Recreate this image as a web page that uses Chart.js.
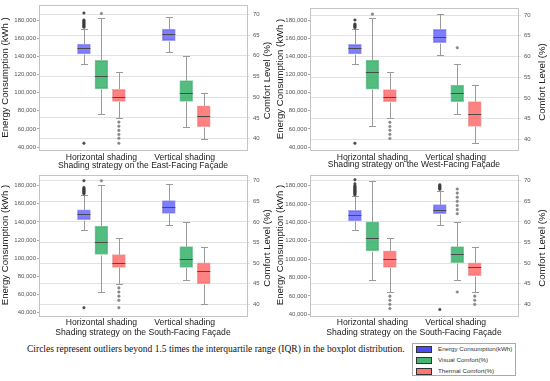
<!DOCTYPE html>
<html>
<head>
<meta charset="utf-8">
<script src="https://cdn.jsdelivr.net/npm/chart.js@4.4.1/dist/chart.umd.min.js"></script>
<style>
  body { margin: 0; width: 550px; height: 381px; background: #fff; position: relative; overflow: hidden;
         font-family: "Liberation Sans", Arial, sans-serif; }
  .panel { position: absolute; width: 275px; height: 170px; }
  #p1 { left: 0; top: 0; }
  #p2 { left: 275px; top: 0; }
  #p3 { left: 0; top: 170px; }
  #p4 { left: 275px; top: 170px; }
  #caption { position: absolute; left: 27px; top: 344px; white-space: nowrap;
             font-family: "Liberation Serif", "Times New Roman", serif; font-size: 9.5px; color: #111; }
  #legend { position: absolute; left: 412px; top: 343px; width: 104px; height: 33px;
            border: 1px solid #aaa; box-sizing: border-box; }
  .row { position: absolute; left: 3px; height: 8px; font-size: 6.2px; color: #333; line-height: 8px; }
  .sw { display: inline-block; width: 16px; height: 7px; border: 1px solid #333; box-sizing: border-box;
        vertical-align: middle; margin-right: 6px; }
</style>
</head>
<body>
<div class="panel" id="p1"><canvas id="c1" width="275" height="170"></canvas></div>
<div class="panel" id="p2"><canvas id="c2" width="275" height="170"></canvas></div>
<div class="panel" id="p3"><canvas id="c3" width="275" height="170"></canvas></div>
<div class="panel" id="p4"><canvas id="c4" width="275" height="170"></canvas></div>
<div id="caption">Circles represent outliers beyond 1.5 times the interquartile range (IQR) in the boxplot distribution.</div>
<div id="legend">
  <div class="row" style="top:1px"><span class="sw" style="background:#4b4bf7"></span>Energy Consumption(kWh)</div>
  <div class="row" style="top:12px"><span class="sw" style="background:#45b572"></span>Visual Comfort(%)</div>
  <div class="row" style="top:23px"><span class="sw" style="background:#fb7878"></span>Thermal Comfort(%)</div>
</div>
<script>
const categories = ['Horizontal shading', 'Vertical shading'];
const energyTicks = [40000, 60000, 80000, 100000, 120000, 140000, 160000, 180000];
const comfortTicks = [40, 45, 50, 55, 60, 65, 70];

// box stats per category: [lower whisker, q1, median, q3, upper whisker]
const eastEnergy = [[131500, 142500, 149000, 153500, 170000], [145000, 157200, 164200, 170000, 182900]];
const eastVisual = [[46, 52, 55, 58.9, 69.1], [42.9, 49, 51, 54, 59.9]];
const eastThermal = [[45, 49, 50, 51.9, 56], [40, 42.9, 45.5, 47.9, 51]];
const eastEnergyOut = [[187700, 180000, 179000, 178000, 177000, 176000, 175000, 174000, 173000, 172000, 44100], []];
const eastVisualOut = [[70.2], []];
const eastThermalOut = [[44, 43, 42, 41, 40.1, 38.9], []];

const westEnergy = [[131500, 142500, 148800, 153200, 169700], [141400, 155000, 160900, 169700, 186300]];
const westVisual = [[43.1, 52.1, 56.3, 59.1, 69.2], [46.1, 49.1, 51.1, 53.1, 58.1]];
const westThermal = [[45.1, 49.1, 50.1, 52, 56.2], [39, 43.1, 46.1, 49.1, 53.1]];
const westEnergyOut = [[180000, 175500, 174500, 173500, 172500, 171500, 44100], []];
const westVisualOut = [[70.2], [62.1]];
const westThermalOut = [[44.1, 43.1, 42.2, 41.2, 40.2], []];

const southAEnergy = [[131700, 142500, 149100, 153500, 170200], [136700, 149500, 156000, 163600, 182200]];
const southAVisual = [[43, 52.1, 55.1, 59, 69], [46, 49, 51, 54, 60.1]];
const southAThermal = [[45, 49, 50.1, 52.1, 56.1], [40, 45, 48.2, 50.1, 54]];
const southAEnergyOut = [[185500, 178000, 177000, 176000, 175000, 174000, 173000, 172000, 171000, 45500], []];
const southAVisualOut = [[70], []];
const southAThermalOut = [[44, 43, 42, 41, 39.2], []];

const southBEnergy = [[131900, 141600, 147700, 153100, 168500], [136900, 149500, 153100, 159500, 174600]];
const southBVisual = [[46, 53, 56.1, 60, 70], [46, 50.1, 52.2, 54, 60.1]];
const southBThermal = [[43, 49, 51, 53, 56.1], [43, 47, 49, 50.1, 54]];
const southBEnergyOut = [[186500, 182000, 180000, 179000, 178000, 177000, 176000, 175000, 174000, 173000, 172000, 171000, 170000],
                         [181000, 180000, 179000, 178000, 177000, 176000, 45200]];
const southBVisualOut = [[], [68, 67, 66, 65, 64, 63, 62, 43]];
const southBThermalOut = [[42, 41, 40, 39], [42, 41, 40]];

const offsets = [-0.21, 0, 0.21];
const groupX = [0, 1.02];

const boxPlugin = {
  id: 'boxes',
  beforeDatasetsDraw(chart) {
    const ctx = chart.ctx;
    ctx.save();
    ctx.strokeStyle = '#9a9a9a';
    ctx.lineWidth = 1;
    chart.data.datasets.forEach((ds, i) => {
      if (!ds.stats) return;
      const ys = chart.scales[ds.yAxisID];
      chart.getDatasetMeta(i).data.forEach((bar, j) => {
        const s = ds.stats[j];
        const x = Math.round(bar.x) + 0.5;
        const p = s.map(v => Math.round(ys.getPixelForValue(v)) + 0.5);
        ctx.beginPath();
        ctx.moveTo(x, p[0]); ctx.lineTo(x, p[1]);
        ctx.moveTo(x, p[3]); ctx.lineTo(x, p[4]);
        ctx.moveTo(x - 3.5, p[0]); ctx.lineTo(x + 3.5, p[0]);
        ctx.moveTo(x - 3.5, p[4]); ctx.lineTo(x + 3.5, p[4]);
        ctx.stroke();
      });
    });
    ctx.restore();
  },
  afterDatasetsDraw(chart) {
    const ctx = chart.ctx;
    ctx.save();
    ctx.strokeStyle = '#4a4a4a';
    ctx.lineWidth = 1;
    chart.data.datasets.forEach((ds, i) => {
      if (!ds.stats) return;
      const ys = chart.scales[ds.yAxisID];
      chart.getDatasetMeta(i).data.forEach((bar, j) => {
        const y = Math.round(ys.getPixelForValue(ds.stats[j][2])) + 0.5;
        ctx.beginPath();
        ctx.moveTo(bar.x - bar.width / 2, y); ctx.lineTo(bar.x + bar.width / 2, y);
        ctx.stroke();
      });
    });
    const a = chart.chartArea;
    ctx.strokeStyle = '#c4c4c4';
    ctx.strokeRect(Math.round(a.left) + 0.5, Math.round(a.top) + 0.5, Math.round(a.right - a.left), Math.round(a.bottom - a.top));
    // right axis title, reading bottom to top like the left one
    ctx.fillStyle = '#222';
    ctx.font = '9.6px "Liberation Sans", Arial, sans-serif';
    ctx.textAlign = 'center';
    ctx.textBaseline = 'middle';
    ctx.translate(chart.width - 8, (a.top + a.bottom) / 2 + 3);
    ctx.rotate(-Math.PI / 2);
    ctx.fillText('Comfort Level (%)', 0, 0);
    ctx.restore();
  }
};

function boxSet(stats, axis, color, border, k) {
  return {
    type: 'bar', yAxisID: axis, stats: stats,
    data: stats.map((s, j) => ({ x: groupX[j] + offsets[k], y: [s[1], s[3]] })),
    backgroundColor: color, borderColor: border, borderWidth: 1, borderSkipped: false,
    barThickness: 13, grouped: false, order: 2
  };
}
function outSet(outs, axis, k, color) {
  const pts = [];
  outs.forEach((list, j) => list.forEach(v => pts.push({ x: groupX[j] + offsets[k], y: v })));
  return {
    type: 'line', yAxisID: axis, data: pts, showLine: false,
    pointRadius: 1.3, pointBackgroundColor: color, pointBorderColor: color, pointBorderWidth: 0.5, order: 1
  };
}

function makePanel(id, p) {
  const tickFont = { family: '"Liberation Sans", Arial, sans-serif', size: 6 };
  const fixV = w => s => { s.width = w; s.paddingTop = 0; s.paddingBottom = 0; };
  new Chart(id, {
    data: {
      datasets: [
        boxSet(p.energy, 'y', 'rgba(90,90,255,0.78)', '#a3a3f0', 0),
        boxSet(p.visual, 'y1', 'rgba(40,172,96,0.8)', '#8ccaa5', 1),
        boxSet(p.thermal, 'y1', 'rgba(255,95,95,0.78)', '#f2a9a9', 2),
        outSet(p.energyOut, 'y', 0, 'rgba(60,60,60,0.9)'),
        outSet(p.visualOut, 'y1', 1, '#888'),
        outSet(p.thermalOut, 'y1', 2, '#888')
      ]
    },
    options: {
      responsive: false, animation: false,
      layout: { padding: { top: p.top, left: 0, right: 0, bottom: 0 } },
      plugins: { legend: { display: false }, tooltip: { enabled: false } },
      scales: {
        x: {
          type: 'linear', min: -0.75, max: 1.75, bounds: 'data', offset: false,
          afterBuildTicks: s => { s.ticks = categories.map((c, i) => ({ value: i })); },
          afterFit: s => { s.height = p.bottom; s.paddingLeft = 0; s.paddingRight = 0; },
          ticks: { callback: (v, i) => categories[i], color: '#222', padding: 2, maxRotation: 0, autoSkip: false,
                   font: { family: '"Liberation Sans", Arial, sans-serif', size: 8.6 } },
          grid: { display: false, drawTicks: false, offset: false }, border: { display: false },
          title: { display: true, text: p.title, color: '#222', padding: { top: 0, bottom: p.titlePad },
                   font: { family: '"Liberation Sans", Arial, sans-serif', size: 8.6 } }
        },
        y: {
          type: 'linear', position: 'left', min: p.eMin, max: p.eMax, bounds: 'data',
          afterBuildTicks: s => { s.ticks = energyTicks.map(v => ({ value: v })); },
          afterFit: fixV(p.left),
          ticks: { callback: v => v.toLocaleString('en-US'), color: '#555', padding: 1, font: tickFont },
          grid: { drawOnChartArea: false, tickLength: 2, color: '#aaa' }, border: { display: false },
          title: { display: true, text: 'Energy Consumption (kWh )', color: '#222', padding: { top: 0, bottom: 0 },
                   font: { family: '"Liberation Sans", Arial, sans-serif', size: 9.6 } }
        },
        y1: {
          type: 'linear', position: 'right', min: p.cMin, max: p.cMax, bounds: 'data',
          afterBuildTicks: s => { s.ticks = comfortTicks.map(v => ({ value: v })); },
          afterFit: fixV(p.right),
          ticks: { color: '#555', padding: 3, font: tickFont },
          grid: { color: '#e2e2e2', tickLength: 3 }, border: { display: false }
        }
      }
    },
    plugins: [boxPlugin]
  });
}

makePanel('c1', { energy: eastEnergy, visual: eastVisual, thermal: eastThermal,
  energyOut: eastEnergyOut, visualOut: eastVisualOut, thermalOut: eastThermalOut,
  title: 'Shading strategy on the East-Facing Façade',
  eMin: 36693, eMax: 196536, cMin: 37.27, cMax: 72.24, left: 39, right: 28, top: 5, bottom: 20, titlePad: -1 });
makePanel('c2', { energy: westEnergy, visual: westVisual, thermal: westThermal,
  energyOut: westEnergyOut, visualOut: westVisualOut, thermalOut: westThermalOut,
  title: 'Shading strategy on the West-Facing Façade',
  eMin: 36693, eMax: 193229, cMin: 37.42, cMax: 71.69, left: 35, right: 32, top: 8, bottom: 20, titlePad: 0 });
makePanel('c3', { energy: southAEnergy, visual: southAVisual, thermal: southAThermal,
  energyOut: southAEnergyOut, visualOut: southAVisualOut, thermalOut: southAThermalOut,
  title: 'Shading strategy on the South-Facing Façade',
  eMin: 36947, eMax: 192321, cMin: 37.31, cMax: 71.51, left: 39, right: 28, top: 3, bottom: 24.5, titlePad: 2 });
makePanel('c4', { energy: southBEnergy, visual: southBVisual, thermal: southBThermal,
  energyOut: southBEnergyOut, visualOut: southBVisualOut, thermalOut: southBThermalOut,
  title: 'Shading strategy on the South-Facing Façade',
  eMin: 38708, eMax: 192169, cMin: 37.31, cMax: 71.51, left: 35, right: 32, top: 3, bottom: 24.5, titlePad: 2 });
</script>
</body>
</html>
